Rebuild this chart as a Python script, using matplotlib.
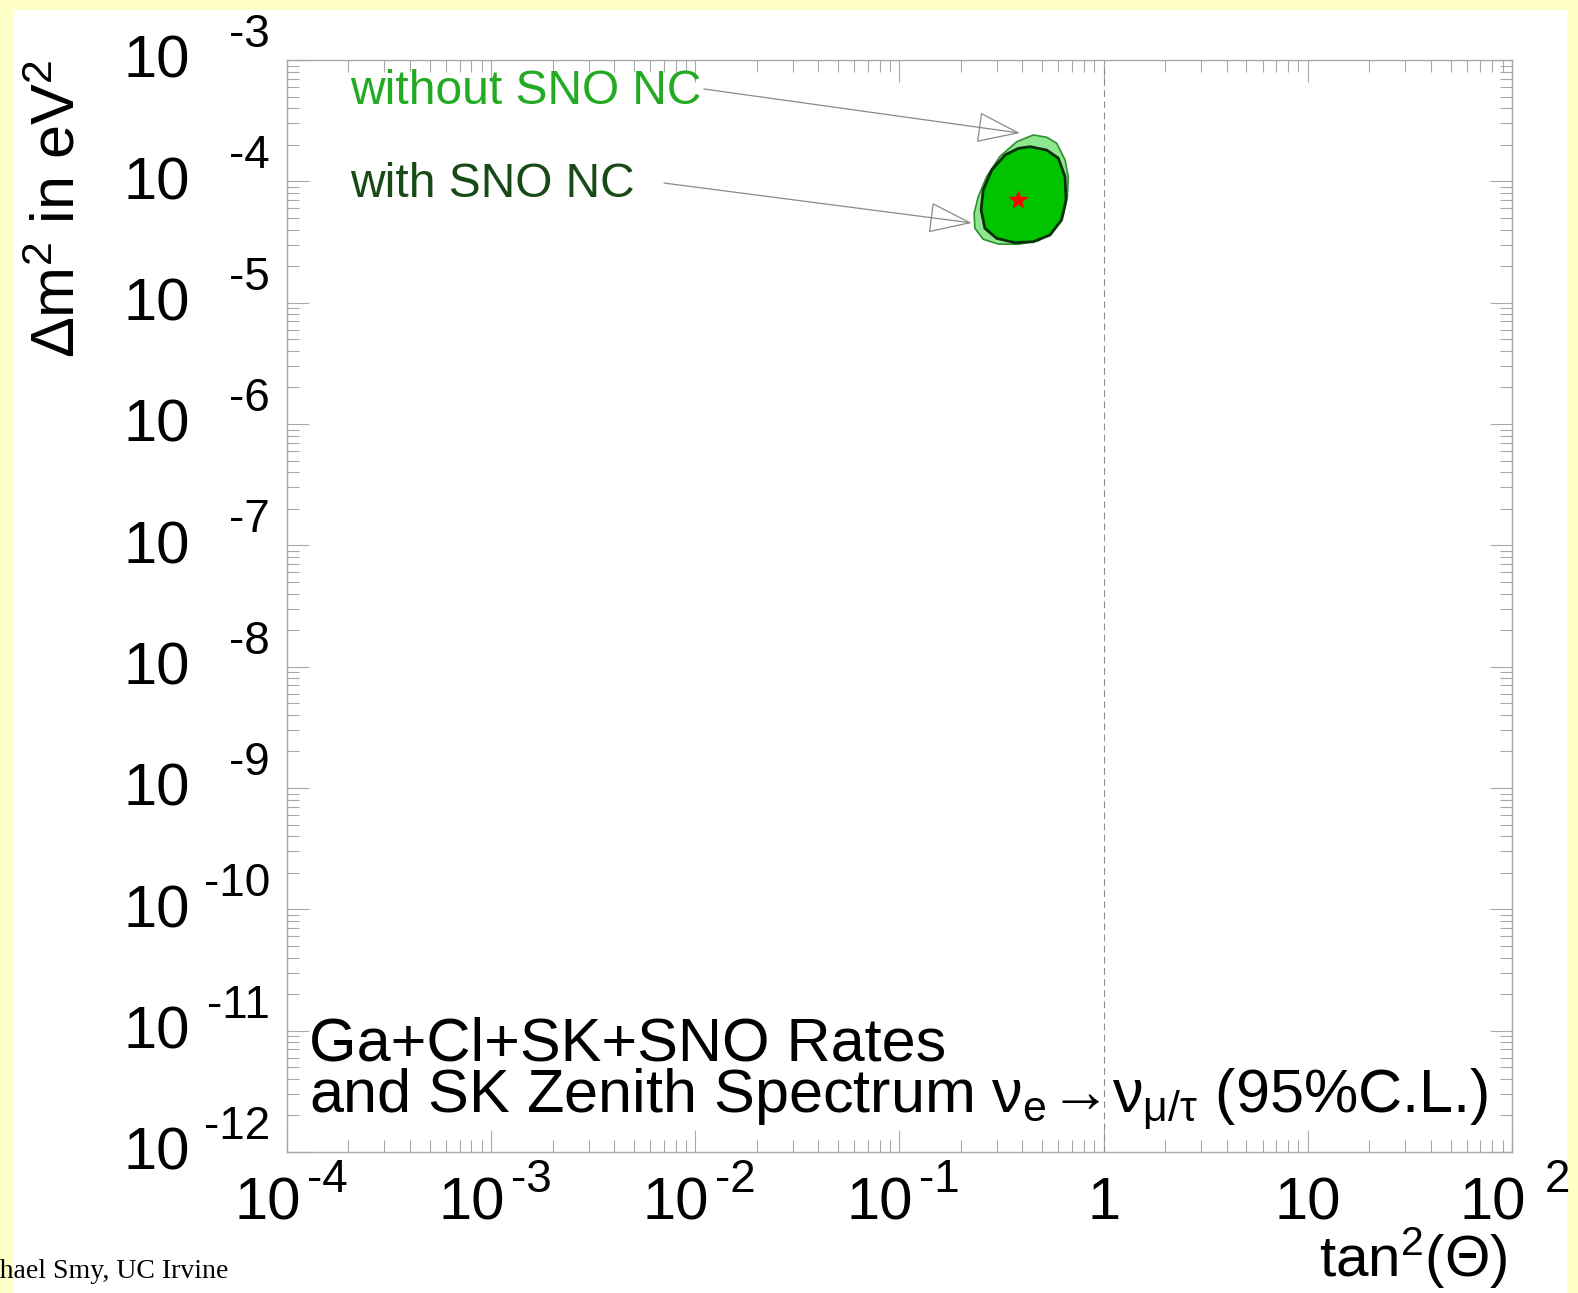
import numpy as np
import matplotlib
matplotlib.use('Agg')
import matplotlib.pyplot as plt
import matplotlib.transforms as mtransforms
from matplotlib.patches import Rectangle
from matplotlib.ticker import LogLocator, NullFormatter

plt.rcParams['font.family'] = ['Liberation Sans', 'DejaVu Sans']
plt.rcParams['mathtext.fontset'] = 'custom'
plt.rcParams['mathtext.rm'] = 'Liberation Sans'
plt.rcParams['mathtext.it'] = 'Liberation Sans'
plt.rcParams['mathtext.sf'] = 'Liberation Sans'
plt.rcParams['mathtext.bf'] = 'Liberation Sans:bold'

# 95% C.L. allowed region, rates + SK zenith spectrum, without SNO NC
tan2_without = [0.452, 0.526, 0.589, 0.647, 0.671, 0.664, 0.634, 0.567, 0.479,
                0.382, 0.305, 0.257, 0.234, 0.232, 0.243, 0.267, 0.310, 0.375]
dm2_without = [2.41e-4, 2.31e-4, 2.06e-4, 1.50e-4, 1.09e-4, 7.46e-5, 5.27e-5, 3.92e-5, 3.24e-5,
               3.03e-5, 3.04e-5, 3.33e-5, 4.10e-5, 5.45e-5, 7.46e-5, 1.09e-4, 1.60e-4, 2.12e-4]

# same region with SNO NC included
tan2_with = [0.436, 0.526, 0.600, 0.647, 0.654, 0.622, 0.546, 0.452,
             0.368, 0.299, 0.262, 0.251, 0.257, 0.283, 0.329, 0.382]
dm2_with = [1.93e-4, 1.81e-4, 1.55e-4, 1.09e-4, 7.01e-5, 4.80e-5, 3.61e-5, 3.18e-5,
            3.12e-5, 3.39e-5, 4.10e-5, 5.81e-5, 8.49e-5, 1.24e-4, 1.65e-4, 1.87e-4]

best_tan2 = 0.38
best_dm2 = 7.0e-5

x_exponents = [-4, -3, -2, -1, 0, 1, 2]
y_exponents = [-12, -11, -10, -9, -8, -7, -6, -5, -4, -3]

W, H = 1578, 1293
fig = plt.figure(figsize=(W / 100, H / 100), dpi=100, facecolor='#ffffc8')
# white page inside the yellow border
fig.add_artist(Rectangle((13 / W, 0), (1567 - 13) / W, 1 - 10 / H,
                         transform=fig.transFigure, fc='white', ec='none', zorder=0))

ax = fig.add_axes([287 / W, 1 - 1152 / H, (1512 - 287) / W, (1152 - 60) / H])
ax.set_xscale('log')
ax.set_yscale('log')
ax.set_xlim(1e-4, 1e2)
ax.set_ylim(1e-12, 1e-3)

frame_col = '#a8a8a8'
for s in ax.spines.values():
    s.set_color(frame_col)
    s.set_linewidth(1.0)
for axis in (ax.xaxis, ax.yaxis):
    axis.set_major_locator(LogLocator(base=10, numticks=100))
    axis.set_minor_locator(LogLocator(base=10, subs=np.arange(2, 10), numticks=100))
    axis.set_major_formatter(NullFormatter())
    axis.set_minor_formatter(NullFormatter())
ax.tick_params(which='both', direction='in', top=True, right=True, colors=frame_col, width=0.8)
ax.tick_params(which='major', length=16)
ax.tick_params(which='minor', length=8.5)

ax.axvline(1.0, color='#8c8c8c', lw=0.8, ls=(0, (6, 4)))

ax.fill(tan2_without, dm2_without, fc='#8ee68e', ec='#2f8f2f', lw=1.2, joinstyle='round', zorder=3)
ax.fill(tan2_with, dm2_with, fc='#00c400', ec='#0b2e0b', lw=2.0, joinstyle='round', zorder=4)
ax.plot(best_tan2, best_dm2, marker='*', color='red', ms=13, zorder=5)

# arrows from the labels to the contours
arrow_kw = dict(arrowstyle='-|>,head_length=1.4,head_width=0.5', mutation_scale=20,
                color='#8a8a8a', fc='none', lw=0.9, shrinkA=0, shrinkB=0)
ax.annotate('', xy=(0.389, 2.50e-4), xytext=(0.0110, 5.77e-4), arrowprops=arrow_kw, zorder=6)
ax.annotate('', xy=(0.226, 4.54e-5), xytext=(0.00703, 9.68e-5), arrowprops=arrow_kw, zorder=6)

ax.text(0.0514, 0.9716, 'without SNO NC', transform=ax.transAxes, color='#22aa22',
        fontsize=34.5, va='center', ha='left')
ax.text(0.0514, 0.8864, 'with SNO NC', transform=ax.transAxes, color='#174a17',
        fontsize=34.5, va='center', ha='left')

ax.text(0.018, 0.0842, 'Ga+Cl+SK+SNO Rates', transform=ax.transAxes,
        fontsize=44, va='baseline', ha='left')
ax.text(0.018, 0.0365, r'and SK Zenith Spectrum $\nu_{e}\!\rightarrow\!\nu_{\mu/\tau}$ (95%C.L.)',
        transform=ax.transAxes, fontsize=44, va='baseline', ha='left')

# tick labels: "10" with the exponent set as a separate raised number
for e in y_exponents:
    t_base = mtransforms.offset_copy(ax.get_yaxis_transform(), fig=fig, x=-97, y=-18, units='dots')
    t_exp = mtransforms.offset_copy(ax.get_yaxis_transform(), fig=fig, x=-17, y=13, units='dots')
    ax.text(0, 10.0 ** e, '10', transform=t_base, ha='right', va='baseline', fontsize=43)
    ax.text(0, 10.0 ** e, str(e), transform=t_exp, ha='right', va='baseline', fontsize=33)

for e in x_exponents:
    if e == 0 or e == 1:
        t_base = mtransforms.offset_copy(ax.get_xaxis_transform(), fig=fig, x=0, y=-67, units='dots')
        ax.text(10.0 ** e, 0, str(10 ** e), transform=t_base, ha='center', va='baseline', fontsize=43)
        continue
    gap = 20 if e < 0 else 33
    t_base = mtransforms.offset_copy(ax.get_xaxis_transform(), fig=fig, x=14, y=-67, units='dots')
    t_exp = mtransforms.offset_copy(ax.get_xaxis_transform(), fig=fig, x=gap, y=-40, units='dots')
    ax.text(10.0 ** e, 0, '10', transform=t_base, ha='right', va='baseline', fontsize=43)
    ax.text(10.0 ** e, 0, str(e), transform=t_exp, ha='left', va='baseline', fontsize=33)

# axis titles
ax.text(0.9967, -0.1145, r'tan$^{2}$(Θ)', transform=ax.transAxes,
        ha='right', va='baseline', fontsize=42)
ax.text(-0.186, 1.0, r'$\Delta$m$^{2}$ in eV$^{2}$', transform=ax.transAxes,
        ha='center', va='top', rotation=90, fontsize=44)

fig.text(228 / W, 1 - 1278 / H, 'Michael Smy, UC Irvine', ha='right', va='baseline',
         fontsize=20, family='Liberation Serif')

fig.savefig('out.png', dpi=100)
